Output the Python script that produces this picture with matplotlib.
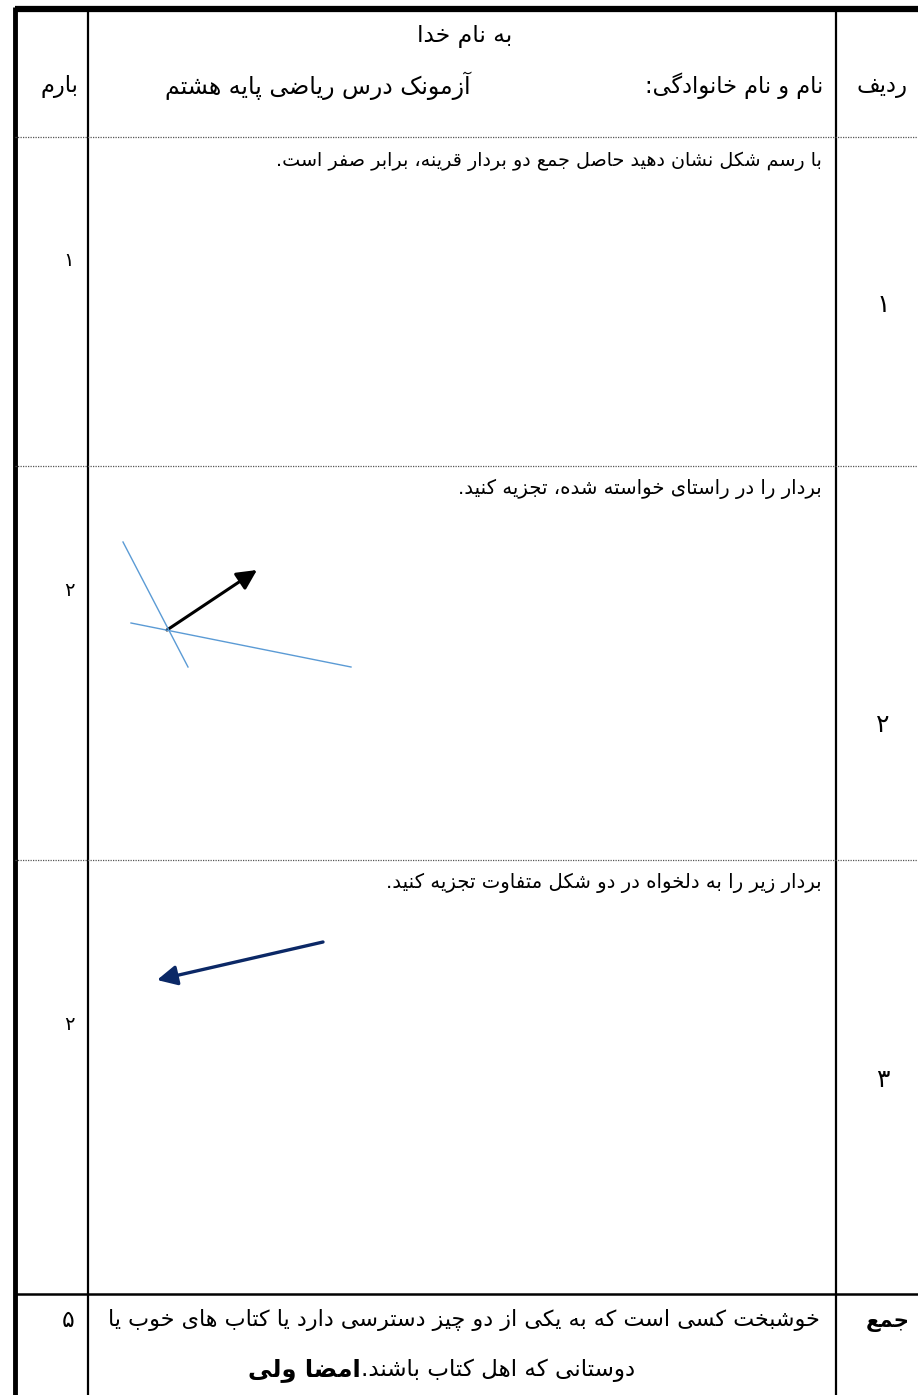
import matplotlib
matplotlib.use("Agg")
import matplotlib.pyplot as plt
from matplotlib.patches import FancyArrowPatch

# ---------------- Persian shaping (no external libs) ----------------
DUAL = {
    'ب': ('\uFE8F', '\uFE90', '\uFE91', '\uFE92'),
    'پ': ('\uFB56', '\uFB57', '\uFB58', '\uFB59'),
    'ت': ('\uFE95', '\uFE96', '\uFE97', '\uFE98'),
    'ث': ('\uFE99', '\uFE9A', '\uFE9B', '\uFE9C'),
    'ج': ('\uFE9D', '\uFE9E', '\uFE9F', '\uFEA0'),
    'چ': ('\uFB7A', '\uFB7B', '\uFB7C', '\uFB7D'),
    'ح': ('\uFEA1', '\uFEA2', '\uFEA3', '\uFEA4'),
    'خ': ('\uFEA5', '\uFEA6', '\uFEA7', '\uFEA8'),
    'س': ('\uFEB1', '\uFEB2', '\uFEB3', '\uFEB4'),
    'ش': ('\uFEB5', '\uFEB6', '\uFEB7', '\uFEB8'),
    'ص': ('\uFEB9', '\uFEBA', '\uFEBB', '\uFEBC'),
    'ض': ('\uFEBD', '\uFEBE', '\uFEBF', '\uFEC0'),
    'ط': ('\uFEC1', '\uFEC2', '\uFEC3', '\uFEC4'),
    'ظ': ('\uFEC5', '\uFEC6', '\uFEC7', '\uFEC8'),
    'ع': ('\uFEC9', '\uFECA', '\uFECB', '\uFECC'),
    'غ': ('\uFECD', '\uFECE', '\uFECF', '\uFED0'),
    'ف': ('\uFED1', '\uFED2', '\uFED3', '\uFED4'),
    'ق': ('\uFED5', '\uFED6', '\uFED7', '\uFED8'),
    'ک': ('\uFB8E', '\uFB8F', '\uFB90', '\uFB91'),
    'گ': ('\uFB92', '\uFB93', '\uFB94', '\uFB95'),
    'ل': ('\uFEDD', '\uFEDE', '\uFEDF', '\uFEE0'),
    'م': ('\uFEE1', '\uFEE2', '\uFEE3', '\uFEE4'),
    'ن': ('\uFEE5', '\uFEE6', '\uFEE7', '\uFEE8'),
    'ه': ('\uFEE9', '\uFEEA', '\uFEEB', '\uFEEC'),
    'ی': ('\uFBFC', '\uFBFD', '\uFBFE', '\uFBFF'),
}
RIGHT = {
    'ا': ('\uFE8D', '\uFE8E'),
    'آ': ('\uFE81', '\uFE82'),
    'د': ('\uFEA9', '\uFEAA'),
    'ذ': ('\uFEAB', '\uFEAC'),
    'ر': ('\uFEAD', '\uFEAE'),
    'ز': ('\uFEAF', '\uFEB0'),
    'ژ': ('\uFB8A', '\uFB8B'),
    'و': ('\uFEED', '\uFEEE'),
}


def joins(c):
    return c in DUAL or c in RIGHT


def shape(text):
    out = []
    n = len(text)
    i = 0
    while i < n:
        c = text[i]
        prev = text[i - 1] if i > 0 else ''
        con_prev = prev in DUAL
        if c == 'ل' and i + 1 < n and text[i + 1] == 'ا':
            out.append('\uFEFC' if con_prev else '\uFEFB')
            i += 2
            continue
        nxt = text[i + 1] if i + 1 < n else ''
        if c in DUAL:
            con_next = joins(nxt)
            f = DUAL[c]
            if con_prev and con_next:
                out.append(f[3])
            elif con_prev:
                out.append(f[1])
            elif con_next:
                out.append(f[2])
            else:
                out.append(f[0])
        elif c in RIGHT:
            f = RIGHT[c]
            out.append(f[1] if con_prev else f[0])
        else:
            out.append(c)
        i += 1
    return ''.join(out)[::-1]


# ---------------- data ----------------
title_top = "به نام خدا"
title_exam = "آزمونک درس ریاضی پایه هشتم"
name_label = "نام و نام خانوادگی:"
col_row = "ردیف"
col_score = "بارم"
questions = [
    "با رسم شکل نشان دهید حاصل جمع دو بردار قرینه، برابر صفر است.",
    "بردار را در راستای خواسته شده، تجزیه کنید.",
    "بردار زیر را به دلخواه در دو شکل متفاوت تجزیه کنید.",
]
row_numbers = ["۱", "۲", "۳"]
scores = ["۱", "۲", "۲"]
total_label = "جمع"
total_score = "۵"
footer_line1 = "خوشبخت کسی است که به یکی از دو چیز دسترسی دارد یا کتاب های خوب یا"
footer_line2 = "دوستانی که اهل کتاب باشند."
footer_sign = "امضا ولی"

# figure geometry (pixels)
W, H = 918, 1395
row_bounds = [137, 466, 860, 1294]          # dotted separators + total line
col_x = [15, 88, 836]                       # vertical rules
q_text_y = [161, 489, 883]
row_num_y = [305, 725, 1080]
score_y = [261, 590, 1025]

# vectors drawn in questions (pixel coords)
q2_line_a = ([123, 188], [542, 667])
q2_line_b = ([131, 351], [623, 667])
q2_arrow = ((167, 630), (257, 570))
q3_arrow = ((323, 942), (157, 980))

fig = plt.figure(figsize=(W / 100, H / 100), dpi=100)
ax = fig.add_axes([0, 0, 1, 1])
ax.set_xlim(0, W)
ax.set_ylim(H, 0)
ax.axis('off')

FONT = 'DejaVu Sans'
renderer = fig.canvas.get_renderer()


def fit_text(x, y, s, width, ha='center', bold=False, color='black'):
    t = ax.text(x, y, shape(s), ha=ha, va='center', fontsize=12,
                family=FONT, fontweight='bold' if bold else 'normal', color=color)
    bb = t.get_window_extent(renderer=renderer)
    t.set_fontsize(12 * width / bb.width)
    return t


# ---------------- table lines ----------------
ax.plot([col_x[0], W], [9, 9], color='black', lw=4.5, solid_capstyle='butt')
ax.plot([col_x[0], col_x[0]], [7, H], color='black', lw=3.5, solid_capstyle='butt')
for xv in col_x[1:]:
    ax.plot([xv, xv], [9, H], color='black', lw=1.6)
for yv in row_bounds[:-1]:
    ax.plot([col_x[0], W], [yv, yv], color='#555555', lw=0.9, ls=(0, (1, 1)))
ax.plot([col_x[0], W], [row_bounds[-1], row_bounds[-1]], color='black', lw=1.8)

# ---------------- header ----------------
fit_text(465, 37, title_top, 95)
fit_text(318, 86, title_exam, 305)
fit_text(823, 86, name_label, 178, ha='right')
fit_text(882, 87, col_row, 51)
fit_text(59, 86, col_score, 38)

# ---------------- question rows ----------------
q_widths = [545, 361, 433]
for q, yv, wv in zip(questions, q_text_y, q_widths):
    fit_text(822, yv, q, wv, ha='right')
for rn, yv in zip(row_numbers, row_num_y):
    ax.text(883, yv, rn, ha='center', va='center', fontsize=18, family=FONT)
for sc, yv in zip(scores, score_y):
    ax.text(69, yv, sc, ha='center', va='center', fontsize=14, family=FONT)

# question 2 figure
ax.plot(*q2_line_a, color='#5b9bd5', lw=1.0)
ax.plot(*q2_line_b, color='#5b9bd5', lw=1.0)
ax.add_patch(FancyArrowPatch(q2_arrow[0], q2_arrow[1], arrowstyle='-|>',
                             mutation_scale=30, lw=2.2, color='black',
                             shrinkA=0, shrinkB=0))
# question 3 figure
ax.add_patch(FancyArrowPatch(q3_arrow[0], q3_arrow[1], arrowstyle='-|>',
                             mutation_scale=30, lw=2.4, color='#0b2866',
                             shrinkA=0, shrinkB=0))

# ---------------- total row ----------------
fit_text(888, 1322, total_label, 44, bold=True)
ax.text(68, 1320, total_score, ha='center', va='center', fontsize=17, family=FONT)
fit_text(820, 1320, footer_line1, 710, ha='right')
l2 = fit_text(635, 1370, footer_line2, 273, ha='right')
ax.text(361, 1370, shape(footer_sign), ha='right', va='center',
        fontsize=l2.get_fontsize() * 1.05, family=FONT, fontweight='semibold')

fig.savefig('out.png', dpi=100, facecolor='white')
